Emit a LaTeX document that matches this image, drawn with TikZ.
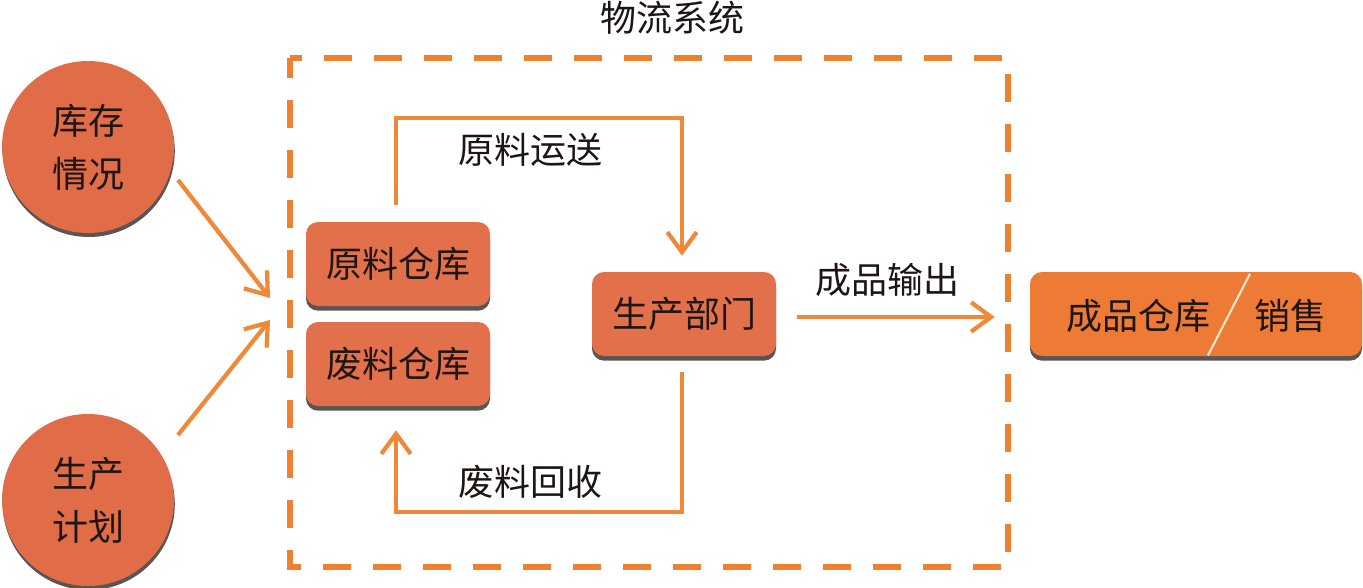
\documentclass[tikz,border=0pt]{standalone}
\usepackage{fontspec}
\newfontfamily\cjk{Noto Sans CJK SC}
\usetikzlibrary{arrows.meta,shadows,calc}
\definecolor{circfill}{HTML}{E06C48}
\definecolor{boxfill}{HTML}{E2704A}
\definecolor{endfill}{HTML}{EE7B35}
\definecolor{arrowc}{HTML}{F0883A}
\definecolor{dashc}{HTML}{EE8030}
\definecolor{shadowc}{HTML}{5A5552}
\definecolor{textc}{HTML}{1E1614}
\definecolor{slashc}{HTML}{FBE6C8}
\tikzset{
  txt/.style={font=\cjk\fontsize{27}{40}\selectfont, text=textc},
  circ/.style={circle, fill=circfill, minimum size=129pt, inner sep=0pt, align=center, txt,
    drop shadow={shadow xshift=0.6pt, shadow yshift=-3pt, fill=shadowc, opacity=1}},
  rbox/.style={rectangle, rounded corners=9pt, fill=boxfill, minimum width=138pt, minimum height=63pt, inner sep=0pt, txt,
    drop shadow={shadow xshift=0pt, shadow yshift=-3.5pt, fill=shadowc, opacity=1}},
  flow/.style={draw=arrowc, line width=3.2pt, -{Straight Barb[length=15pt,width=22pt]}},
  sysbox/.style={draw=dashc, line width=5.2pt, dash pattern=on 21pt off 16.5pt, dash phase=6pt},
  lbl/.style={txt, inner sep=0pt}
}
\begin{document}
\begin{tikzpicture}[x=0.75pt,y=-0.75pt]
\useasboundingbox (0,0) rectangle (1363,588);
% system boundary
\draw[sysbox] (290,58) rectangle (1008,567);
\node[lbl] (title) at (672,18) {物流系统};
% circles
\node[circ] (c1) at (88,147) {库存\\情况};
\node[circ] (c2) at (88,500) {生产\\计划};
% boxes
\node[rbox] (yl) at (398,264) {原料仓库};
\node[rbox] (fl) at (398,364) {废料仓库};
\node[rbox] (sc) at (684,314) {生产部门};
\node[rbox, fill=endfill, minimum width=249pt] (cp) at (1196,314) {};
\node[lbl] (cpa) at (1138,316) {成品仓库};
\node[lbl] (cpb) at (1290,316) {销售};
\draw[slashc, line width=1.6pt] ($(cp.north)+(54,2)$) -- ($(cp.south)+(12,-1)$);
% inputs
\coordinate (in1) at (270,298);
\coordinate (in2) at (270,320);
\draw[flow] ($(c1.center)+(90,33)$) -- (in1);
\draw[flow] ($(c2.center)+(90,-65)$) -- (in2);
% raw material transport
\draw[flow] ($(yl.north)+(-2,-17)$) -- ($(yl.north)+(-2,-104)$) -| ($(sc.north)+(-2,-16)$);
\node[lbl] (ly) at (530,150) {原料运送};
% waste recovery
\draw[flow] ($(sc.south)+(-2,16)$) -- ($(sc.south)+(-2,156)$) -| ($(fl.south)+(-2,24)$);
\node[lbl] (lf) at (530,482) {废料回收};
% output
\draw[flow] ($(sc.east)+(21,3)$) -- ($(cp.west)+(-35,3)$);
\node[lbl] (lo) at (887,280) {成品输出};
\end{tikzpicture}
\end{document}
